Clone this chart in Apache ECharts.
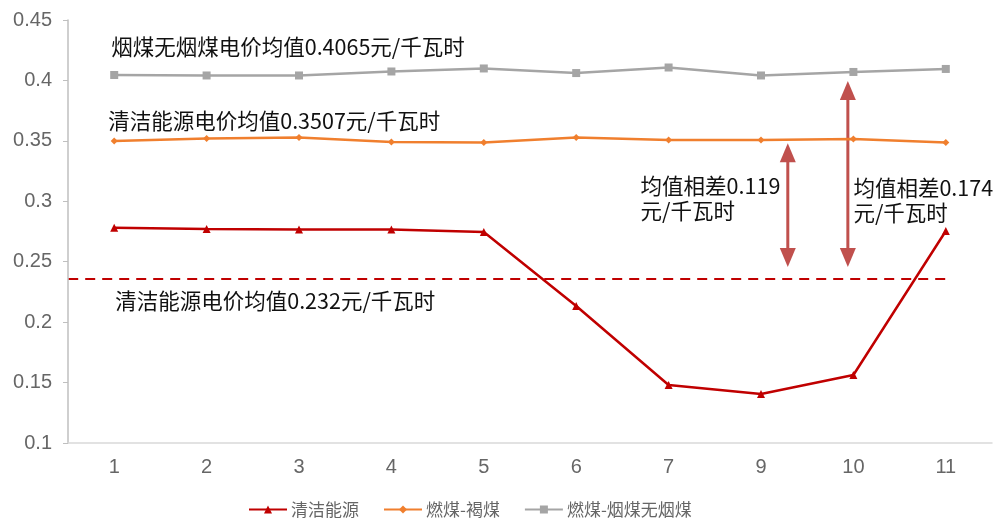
<!DOCTYPE html>
<html>
<head>
<meta charset="utf-8">
<script src="https://cdn.jsdelivr.net/npm/echarts@6/dist/echarts.min.js"></script>
<style>
  html, body { margin: 0; padding: 0; background: #fff; }
  #chart { width: 994px; height: 529px; }
</style>
</head>
<body>
<div id="chart"></div>
<script>
// categories and series values
const categories = ['1', '2', '3', '4', '5', '6', '7', '9', '10', '11'];
const cleanEnergy = [0.278, 0.277, 0.2767, 0.2767, 0.2746, 0.2134, 0.148, 0.1405, 0.1563, 0.2754];
const lignite = [0.3499, 0.352, 0.3528, 0.349, 0.3486, 0.3528, 0.3507, 0.3507, 0.3515, 0.3486];
const bituminous = [0.4045, 0.4041, 0.4041, 0.4074, 0.4099, 0.4061, 0.4107, 0.4041, 0.407, 0.4095];
const seriesNames = ['清洁能源', '燃煤-褐煤', '燃煤-烟煤无烟煤'];
const cleanAvgLevel = 0.2357;

const CJK = '"Noto Sans CJK SC", "Microsoft YaHei", sans-serif';
const LATIN = '"Liberation Sans", Arial, "Noto Sans CJK SC", sans-serif';

const chart = echarts.init(document.getElementById('chart'));

chart.setOption({
  animation: false,
  grid: { left: 68, right: 2, top: 20, bottom: 86 },
  legend: {
    bottom: 6,
    left: 243,
    itemWidth: 38,
    itemHeight: 10,
    itemGap: 24,
    textStyle: { color: '#666', fontSize: 17, fontFamily: CJK, padding: [0, 0, 0, -1] }
  },
  xAxis: {
    type: 'category',
    data: categories,
    axisLine: { lineStyle: { color: '#d9d9d9', width: 1.5 } },
    axisTick: { show: false },
    axisLabel: { color: '#666', fontSize: 20, fontFamily: LATIN, margin: 14 }
  },
  yAxis: {
    type: 'value',
    min: 0.1,
    max: 0.45,
    interval: 0.05,
    axisLine: { show: true, lineStyle: { color: '#bfbfbf', width: 1.5 } },
    axisTick: { show: true, length: 5, lineStyle: { color: '#bfbfbf' } },
    splitLine: { show: false },
    axisLabel: { color: '#666', fontSize: 20, fontFamily: LATIN, margin: 16 }
  },
  series: [
    {
      name: seriesNames[0],
      type: 'line',
      data: cleanEnergy,
      symbol: 'triangle',
      symbolSize: 8,
      itemStyle: { color: '#C00000' },
      lineStyle: { color: '#C00000', width: 2.5 }
    },
    {
      name: seriesNames[1],
      type: 'line',
      data: lignite,
      symbol: 'diamond',
      symbolSize: 7,
      itemStyle: { color: '#F07F2E' },
      lineStyle: { color: '#F07F2E', width: 2.5 }
    },
    {
      name: seriesNames[2],
      type: 'line',
      data: bituminous,
      symbol: 'rect',
      symbolSize: 8,
      itemStyle: { color: '#A5A5A5' },
      lineStyle: { color: '#A5A5A5', width: 2.5 }
    }
  ]
});

// annotations placed from the axes
function px(cat, val) {
  return chart.convertToPixel({ xAxisIndex: 0, yAxisIndex: 0 }, [cat, val]);
}
function between(catA, catB, t, val) {
  const a = px(catA, val), b = px(catB, val);
  return [a[0] + (b[0] - a[0]) * t, a[1]];
}

const arrowColor = '#C0504D';
function arrow(x, yTop, yBottom) {
  const head = 19, half = 8;
  return [
    { type: 'line', shape: { x1: x, y1: yTop + head - 2, x2: x, y2: yBottom - head + 2 },
      style: { stroke: arrowColor, lineWidth: 3 } },
    { type: 'polygon', shape: { points: [[x, yTop], [x - half, yTop + head], [x + half, yTop + head]] },
      style: { fill: arrowColor } },
    { type: 'polygon', shape: { points: [[x, yBottom], [x - half, yBottom - head], [x + half, yBottom - head]] },
      style: { fill: arrowColor } }
  ];
}
function label(text, x, y) {
  return {
    type: 'text',
    style: { text: text, x: x, y: y, fill: '#111', font: '21.5px ' + CJK, verticalAlign: 'middle', lineHeight: 25 }
  };
}

const x1 = px('1', 0)[0];
const left = px('1', 0.45)[0] - 46;
const dashY = px('1', cleanAvgLevel)[1];
const a1 = between('9', '10', 0.29, 0.348);
const a1b = px('9', 0.2456)[1];
const a2 = between('9', '10', 0.94, 0.3995);

chart.setOption({
  graphic: [
    { type: 'line', shape: { x1: left, y1: dashY, x2: px('11', 0)[0] + 3, y2: dashY },
      style: { stroke: '#C00000', lineWidth: 2, lineDash: [10, 7] } },
    label('烟煤无烟煤电价均值0.4065元/千瓦时', x1 - 3, px('1', 0.4277)[1]),
    label('清洁能源电价均值0.3507元/千瓦时', x1 - 6, px('1', 0.3665)[1]),
    label('清洁能源电价均值0.232元/千瓦时', x1 + 1, px('1', 0.2175)[1]),
    label('均值相差0.119\n元/千瓦时', px('7', 0)[0] - 28, px('1', 0.3028)[1]),
    label('均值相差0.174\n元/千瓦时', px('10', 0)[0], px('1', 0.3012)[1])
  ].concat(arrow(a1[0], a1[1], a1b), arrow(a2[0], a2[1], a1b))
});
</script>
</body>
</html>
